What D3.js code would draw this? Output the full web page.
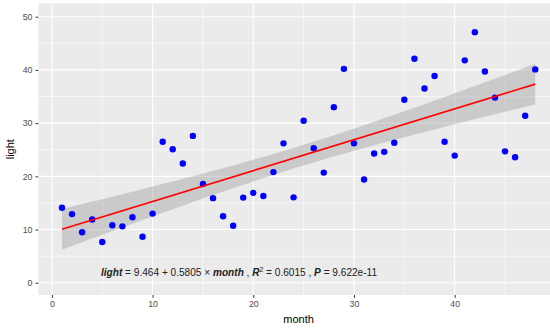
<!DOCTYPE html>
<html>
<head>
<meta charset="utf-8">
<script src="https://cdn.jsdelivr.net/npm/d3@7"></script>
<style>
  html, body { margin: 0; padding: 0; background: #fff; }
  svg { display: block; font-family: "Liberation Sans", Arial, sans-serif; }
</style>
</head>
<body>
<svg id="chart" width="550" height="333"></svg>
<script>
// Monthly light readings
const months = d3.range(1, 49);
const light = [
  14.1, 12.9, 9.5, 11.9, 7.65, 10.8, 10.6, 12.3, 8.65, 13.0,
  26.5, 25.1, 22.4, 27.6, 18.55, 15.9, 12.5, 10.7, 16.0, 16.9,
  16.3, 20.8, 26.2, 16.05, 30.45, 25.3, 20.7, 33.0, 40.2, 26.2,
  19.4, 24.3, 24.6, 26.3, 34.4, 42.1, 36.5, 38.85, 26.5, 23.9,
  41.8, 47.1, 39.7, 34.8, 24.7, 23.6, 31.4, 40.1
];
const xTicks = [0, 10, 20, 30, 40];
const yTicks = [0, 10, 20, 30, 40, 50];

// Fitted model, as printed in the annotation
const intercept = 9.464;
const slope = 0.5805;
const rSquared = "0.6015";
const pValue = "9.622e-11";
const tCrit = 2.0129; // t(0.975, df = 46)

const svg = d3.select("#chart");
const panel = { left: 38.3, right: 558.9, top: 3.4, bottom: 295 };

const x = d3.scaleLinear().domain([-1.35, 50.35]).range([panel.left, panel.right]);
const y = d3.scaleLinear().domain([-2.3, 52.5]).range([panel.bottom, panel.top]);

// panel background
svg.append("rect")
  .attr("x", panel.left).attr("y", panel.top)
  .attr("width", panel.right - panel.left).attr("height", panel.bottom - panel.top)
  .attr("fill", "#EBEBEB");

const grid = svg.append("g");
// minor grid
const xMinor = [5, 15, 25, 35, 45];
const yMinor = [5, 15, 25, 35, 45];
grid.selectAll(".xmin").data(xMinor).join("line")
  .attr("x1", d => x(d)).attr("x2", d => x(d))
  .attr("y1", panel.top).attr("y2", panel.bottom)
  .attr("stroke", "#fff").attr("stroke-width", 0.55);
grid.selectAll(".ymin").data(yMinor).join("line")
  .attr("y1", d => y(d)).attr("y2", d => y(d))
  .attr("x1", panel.left).attr("x2", panel.right)
  .attr("stroke", "#fff").attr("stroke-width", 0.55);
// major grid
grid.selectAll(".xmaj").data(xTicks).join("line")
  .attr("x1", d => x(d)).attr("x2", d => x(d))
  .attr("y1", panel.top).attr("y2", panel.bottom)
  .attr("stroke", "#fff").attr("stroke-width", 1.1);
grid.selectAll(".ymaj").data(yTicks).join("line")
  .attr("y1", d => y(d)).attr("y2", d => y(d))
  .attr("x1", panel.left).attr("x2", panel.right)
  .attr("stroke", "#fff").attr("stroke-width", 1.1);

// confidence band around the fit
const n = months.length;
const mx = d3.mean(months);
const sxx = d3.sum(months, m => (m - mx) ** 2);
const sse = d3.sum(months, (m, i) => (light[i] - (intercept + slope * m)) ** 2);
const s = Math.sqrt(sse / (n - 2));
const fitX = d3.range(1, 48.001, 0.5);
const band = fitX.map(m => {
  const f = intercept + slope * m;
  const h = tCrit * s * Math.sqrt(1 / n + (m - mx) ** 2 / sxx);
  return { m, lo: f - h, hi: f + h };
});
svg.append("path")
  .datum(band)
  .attr("d", d3.area().x(d => x(d.m)).y0(d => y(d.lo)).y1(d => y(d.hi)))
  .attr("fill", "#999999").attr("fill-opacity", 0.4);

// points
svg.append("g").selectAll("circle").data(months).join("circle")
  .attr("cx", d => x(d)).attr("cy", (d, i) => y(light[i]))
  .attr("r", 3.2).attr("fill", "#0000FF");

// regression line
svg.append("path")
  .datum([d3.min(months), d3.max(months)])
  .attr("d", d3.line().x(d => x(d)).y(d => y(intercept + slope * d)))
  .attr("stroke", "#FF0000").attr("stroke-width", 1.6).attr("fill", "none");

// axes
const xAxis = svg.append("g").attr("transform", `translate(0,${panel.bottom})`)
  .call(d3.axisBottom(x).tickValues(xTicks).tickSize(2.8).tickPadding(3));
const yAxis = svg.append("g").attr("transform", `translate(${panel.left},0)`)
  .call(d3.axisLeft(y).tickValues(yTicks).tickSize(2.8).tickPadding(3));
[xAxis, yAxis].forEach(a => {
  a.select(".domain").remove();
  a.selectAll(".tick line").attr("stroke", "#333333").attr("stroke-width", 1);
  a.selectAll(".tick text").attr("fill", "#4D4D4D").attr("font-size", 8.8)
    .attr("font-family", "Liberation Sans, Arial, sans-serif");
});

// axis titles
svg.append("text")
  .attr("x", (panel.left + panel.right) / 2).attr("y", 323)
  .attr("text-anchor", "middle").attr("font-size", 11).attr("fill", "#000")
  .text("month");
svg.append("text")
  .attr("transform", `translate(14,${(panel.top + panel.bottom) / 2}) rotate(-90)`)
  .attr("text-anchor", "middle").attr("font-size", 11).attr("fill", "#000")
  .text("light");

// model annotation
const label = svg.append("text")
  .attr("x", 101).attr("y", 276.3)
  .attr("font-size", 10.1).attr("fill", "#222");
const parts = [
  { t: "light", it: true },
  { t: " = " + intercept + " + " + slope + " \u00d7 " },
  { t: "month", it: true },
  { t: " , " },
  { t: "R", it: true },
  { t: "2", sup: true },
  { t: " = " + rSquared + " , ", down: true },
  { t: "P", it: true },
  { t: " = " + pValue }
];
parts.forEach(p => {
  const ts = label.append("tspan").text(p.t);
  if (p.it) ts.attr("font-style", "italic").attr("font-weight", "bold");
  if (p.sup) ts.attr("font-size", 6.8).attr("dy", -4);
  if (p.down) ts.attr("dy", 4);
});
</script>
</body>
</html>
